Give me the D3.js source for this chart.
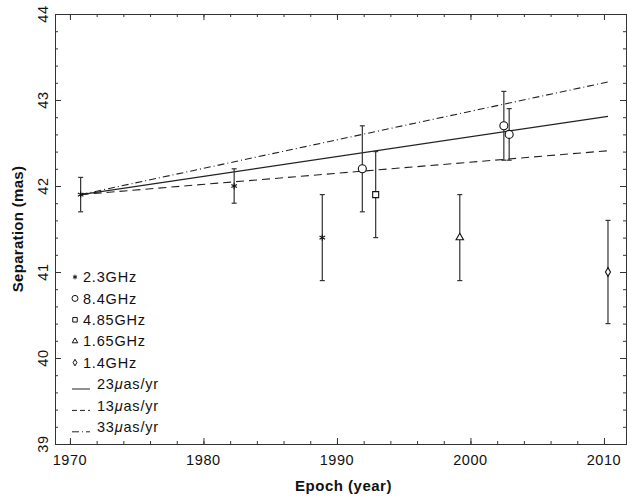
<!DOCTYPE html>
<html>
<head>
<meta charset="utf-8">
<script src="https://cdn.jsdelivr.net/npm/d3@7"></script>
<style>
  body { margin: 0; background: #fff; }
  text { font-family: "Liberation Sans", Arial, sans-serif; fill: #111; }
</style>
</head>
<body>
<div class="svg-container"></div>
<script>
const bands   = ["2.3GHz", "8.4GHz", "4.85GHz", "1.65GHz", "1.4GHz"];
const shapes  = ["asterisk", "circle", "square", "triangle", "diamond"];
const obsBand = [0, 0, 0, 1, 2, 3, 1, 1, 4];
const epochs  = [1970.8, 1982.3, 1988.9, 1991.9, 1992.9, 1999.2, 2002.5, 2002.9, 2010.3];
const seps    = [41.9, 42.0, 41.4, 42.2, 41.9, 41.4, 42.7, 42.6, 41.0];
const errs    = [0.2, 0.2, 0.5, 0.5, 0.5, 0.5, 0.4, 0.3, 0.6];

// fitted motions
const fitLabels = ["23", "13", "33"];
const fitDash   = [null, "8,5", "7,3,1,3"];
const fitStart  = [1970.8, 41.9];
const fitEndEpoch = 2010.3;
const fitEndSep = [42.81, 42.41, 43.21];

const xMajor = [1970, 1980, 1990, 2000, 2010];
const yMajor = [39, 40, 41, 42, 43, 44];

const margin = {top: 14, right: 1, bottom: 55, left: 55};
const width = 627 - margin.left - margin.right;
const height = 499 - margin.top - margin.bottom;

const svg = d3.select('.svg-container')
    .append('svg')
    .attr('width', width + margin.left + margin.right)
    .attr('height', height + margin.top + margin.bottom);

const g = svg.append('g')
    .attr('transform', `translate(${margin.left}, ${margin.top})`);

var x = d3.scaleLinear().domain([1968.88, 2011.65]).range([0, width]);
var y = d3.scaleLinear().domain([39, 44]).range([height, 0]);

var xMinor = d3.range(1970, 2011, 2);
var yMinor = d3.range(39, 44.01, 0.2);

// frame + ticks (inward on all sides)
function tickAxis(axis, vals, size, tr) {
  var a = g.append("g")
      .attr("transform", tr)
      .call(axis.tickValues(vals).tickSize(size).tickFormat(""));
  a.selectAll("path, line").attr("stroke", "#333");
  return a;
}
tickAxis(d3.axisBottom(x), xMinor, -3, `translate(0,${height})`);
tickAxis(d3.axisBottom(x), xMajor, -6, `translate(0,${height})`);
tickAxis(d3.axisTop(x), xMinor, -3, "translate(0,0)");
tickAxis(d3.axisTop(x), xMajor, -6, "translate(0,0)");
tickAxis(d3.axisLeft(y), yMinor, -3, "translate(0,0)");
tickAxis(d3.axisLeft(y), yMajor, -6, "translate(0,0)");
tickAxis(d3.axisRight(y), yMinor, -3, `translate(${width},0)`);
tickAxis(d3.axisRight(y), yMajor, -6, `translate(${width},0)`);

g.selectAll(".xlab")
  .data(xMajor)
  .enter().append("text")
    .attr("x", d => x(d))
    .attr("y", height + 21)
    .attr("text-anchor", "middle")
    .style("font-size", "14.5px")
    .style("letter-spacing", "0.6px")
    .text(d => d);

g.selectAll(".ylab")
  .data(yMajor)
  .enter().append("text")
    .attr("transform", d => `translate(-7,${y(d)}) rotate(-90)`)
    .attr("text-anchor", "middle")
    .style("font-size", "14.5px")
    .style("letter-spacing", "0.6px")
    .text(d => d);

svg.append("text")
    .attr("x", margin.left + width / 2 + 3)
    .attr("y", 491)
    .attr("text-anchor", "middle")
    .style("font-size", "15px")
    .style("font-weight", "bold")
    .style("letter-spacing", "0.5px")
    .text("Epoch (year)");

svg.append("text")
    .attr("transform", `translate(23,${margin.top + height / 2}) rotate(-90)`)
    .attr("text-anchor", "middle")
    .style("font-size", "15px")
    .style("font-weight", "bold")
    .style("letter-spacing", "0.3px")
    .text("Separation (mas)");

// symbols
function symbolPath(shape, k) {
  k = k || 1;
  if (shape == "asterisk") {
    var p = d3.path(), r = 3.2 * k;
    for (var j = 0; j < 3; j++) {
      var a = Math.PI / 2 + j * Math.PI / 3;
      p.moveTo(r * Math.cos(a), r * Math.sin(a));
      p.lineTo(-r * Math.cos(a), -r * Math.sin(a));
    }
    return p.toString();
  }
  var types = {circle: [d3.symbolCircle, 50], square: [d3.symbolSquare, 36],
               triangle: [d3.symbolTriangle, 24], diamond: [d3.symbolDiamond, 22]};
  return d3.symbol().type(types[shape][0]).size(types[shape][1] * k * k)();
}

// fit lines
fitLabels.forEach(function(lab, i) {
  g.append("line")
    .attr("x1", x(fitStart[0])).attr("y1", y(fitStart[1]))
    .attr("x2", x(fitEndEpoch)).attr("y2", y(fitEndSep[i]))
    .attr("stroke", "#222")
    .attr("stroke-width", 1.1)
    .attr("stroke-dasharray", fitDash[i]);
});

// error bars
var obs = g.selectAll(".obs")
  .data(epochs.map((e, i) => ({e: e, s: seps[i], err: errs[i], b: obsBand[i]})))
  .enter().append("g")
    .attr("class", "obs");

obs.append("line")
    .attr("x1", d => x(d.e)).attr("x2", d => x(d.e))
    .attr("y1", d => y(d.s - d.err)).attr("y2", d => y(d.s + d.err))
    .attr("stroke", "#333").attr("stroke-width", 1.2);
[-1, 1].forEach(function(sg) {
  obs.append("line")
    .attr("x1", d => x(d.e) - 2.5).attr("x2", d => x(d.e) + 2.5)
    .attr("y1", d => y(d.s + sg * d.err)).attr("y2", d => y(d.s + sg * d.err))
    .attr("stroke", "#333").attr("stroke-width", 1.2);
});
obs.append("path")
    .attr("transform", d => `translate(${x(d.e)},${y(d.s)})`)
    .attr("d", d => symbolPath(shapes[d.b]))
    .attr("fill", d => shapes[d.b] == "asterisk" ? "none" : "#fff")
    .attr("stroke", "#111")
    .attr("stroke-width", 1.1);

// legend
var legendTop = 277, legendStep = 21.4;
var legend = svg.selectAll(".legend")
  .data(bands)
  .enter().append("g")
    .attr("class", "legend")
    .attr("transform", (d, i) => `translate(0,${legendTop + i * legendStep})`);

legend.append("path")
    .attr("transform", "translate(75,0)")
    .attr("d", (d, i) => symbolPath(shapes[i], 0.75))
    .attr("fill", "none")
    .attr("stroke", "#111")
    .attr("stroke-width", 1);

legend.append("text")
    .attr("x", 83)
    .attr("dy", "0.36em")
    .style("font-size", "14.5px")
    .style("letter-spacing", "0.8px")
    .text(d => d);

var legend2 = svg.selectAll(".legend2")
  .data(fitLabels)
  .enter().append("g")
    .attr("class", "legend2")
    .attr("transform", (d, i) => `translate(0,${legendTop + (i + 5) * legendStep})`);

legend2.append("line")
    .attr("x1", 72).attr("x2", 90)
    .attr("y1", 5).attr("y2", 5)
    .attr("stroke", "#222")
    .attr("stroke-dasharray", (d, i) => fitDash[i] == "8,5" ? "5,3" : fitDash[i]);

var lt = legend2.append("text")
    .attr("x", 97)
    .attr("dy", "0.36em")
    .style("font-size", "14.5px")
    .style("letter-spacing", "0.8px");
lt.append("tspan").text(d => d);
lt.append("tspan").style("font-style", "italic").text("\u03bc");
lt.append("tspan").text("as/yr");
</script>
</body>
</html>
